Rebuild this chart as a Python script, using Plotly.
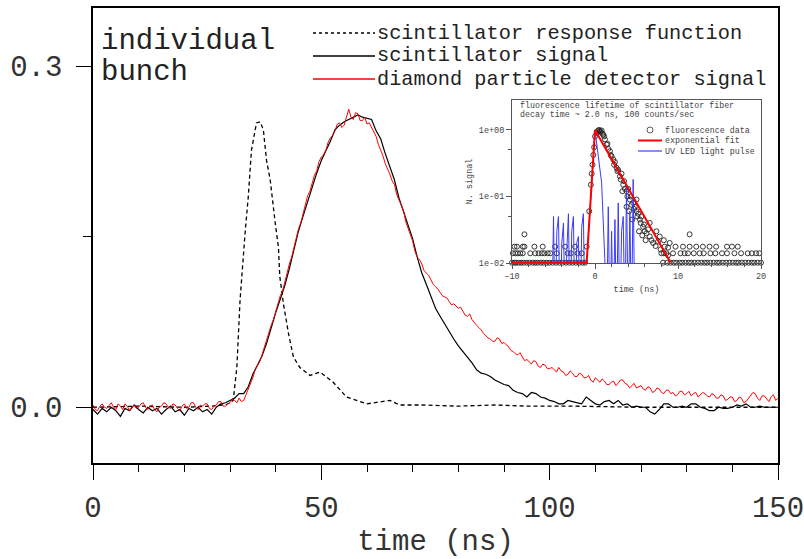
import plotly.graph_objects as go

FONT = "Liberation Mono"

# ---- main panel ----
# scintillator signal: one value per ns, 0..150 ns
t_ns = list(range(151))
scint_signal = [
    -0.002, -0.006, -0.001, -0.004, 0.000, -0.003, -0.008, -0.001, -0.003, 0.002,
    -0.002, -0.005, 0.000, -0.003, -0.001, -0.006, -0.002, 0.001, -0.004, -0.002,
    -0.007, -0.001, -0.003, 0.000, -0.004, -0.002, -0.006, 0.000, 0.003, 0.004,
    0.006, 0.008, 0.012, 0.012, 0.018, 0.029, 0.037, 0.045, 0.056, 0.070,
    0.083, 0.095, 0.107, 0.122, 0.139, 0.155, 0.168, 0.181, 0.195, 0.206,
    0.217, 0.225, 0.234, 0.244, 0.248, 0.251, 0.253, 0.255, 0.257, 0.255,
    0.254, 0.253, 0.243, 0.236, 0.223, 0.212, 0.200, 0.184, 0.172, 0.160,
    0.148, 0.132, 0.118, 0.108, 0.097, 0.087, 0.080, 0.073, 0.066, 0.060,
    0.054, 0.049, 0.045, 0.039, 0.033, 0.030, 0.029, 0.027, 0.024, 0.022,
    0.020, 0.019, 0.015, 0.013, 0.012, 0.009, 0.013, 0.012, 0.009, 0.008,
    0.006, 0.005, 0.003, 0.003, 0.006, 0.005, 0.004, 0.003, 0.009, 0.006,
    0.003, 0.002, 0.005, 0.006, 0.003, 0.006, 0.002, 0.003, 0.000, 0.001,
    0.000, 0.000, -0.004, -0.006, -0.002, 0.003, 0.003, 0.000, 0.000, 0.001,
    0.000, 0.003, 0.003, 0.000, -0.001, -0.003, -0.003, 0.000, -0.001, -0.001,
    0.000, 0.002, 0.001, 0.003, 0.000, 0.000, 0.001, 0.000, 0.000, 0.000, 0.000,
]

# diamond detector signal: one value per 0.5 ns, 0..150 ns
t_half = [i * 0.5 for i in range(301)]
diamond_signal = [
    0.002, -0.002, -0.003, 0.001, 0.003, 0.000, -0.001, 0.002, 0.004, 0.000,
    -0.002, 0.003, 0.001, -0.002, 0.003, 0.001, -0.003, 0.000, 0.002, -0.001,
    0.000, 0.003, 0.004, 0.000, -0.002, 0.001, 0.002, -0.002, -0.004, 0.000,
    0.001, 0.004, 0.003, 0.000, -0.001, 0.003, 0.002, -0.001, -0.003, 0.001,
    0.003, -0.001, 0.000, 0.004, 0.004, 0.000, -0.002, 0.002, 0.001, 0.003,
    0.003, -0.001, -0.002, 0.001, 0.002, 0.005, 0.005, 0.001, 0.001, 0.003,
    0.004, 0.007, 0.006, 0.004, 0.008, 0.005, 0.006, 0.011, 0.016, 0.020,
    0.026, 0.033, 0.037, 0.040, 0.046, 0.053, 0.058, 0.066, 0.072, 0.077,
    0.084, 0.093, 0.098, 0.102, 0.110, 0.119, 0.126, 0.132, 0.141, 0.150,
    0.157, 0.162, 0.170, 0.180, 0.186, 0.190, 0.197, 0.204, 0.208, 0.216,
    0.220, 0.222, 0.226, 0.233, 0.237, 0.239, 0.243, 0.249, 0.250, 0.246,
    0.248, 0.256, 0.262, 0.255, 0.253, 0.259, 0.258, 0.252, 0.252, 0.255,
    0.249, 0.250, 0.246, 0.243, 0.238, 0.231, 0.226, 0.221, 0.214, 0.210,
    0.205, 0.199, 0.196, 0.187, 0.182, 0.178, 0.173, 0.163, 0.157, 0.152,
    0.146, 0.137, 0.132, 0.130, 0.126, 0.120, 0.118, 0.116, 0.112, 0.108,
    0.106, 0.104, 0.101, 0.098, 0.097, 0.096, 0.093, 0.090, 0.091, 0.089,
    0.087, 0.088, 0.084, 0.081, 0.080, 0.082, 0.077, 0.074, 0.072, 0.070,
    0.068, 0.065, 0.063, 0.061, 0.060, 0.058, 0.058, 0.061, 0.060, 0.056,
    0.057, 0.055, 0.053, 0.050, 0.049, 0.047, 0.046, 0.048, 0.044, 0.041,
    0.042, 0.040, 0.038, 0.041, 0.040, 0.036, 0.035, 0.038, 0.037, 0.034,
    0.034, 0.035, 0.033, 0.031, 0.035, 0.032, 0.031, 0.028, 0.029, 0.032,
    0.030, 0.027, 0.027, 0.030, 0.029, 0.026, 0.026, 0.028, 0.024, 0.022,
    0.026, 0.024, 0.022, 0.025, 0.023, 0.020, 0.020, 0.022, 0.023, 0.019,
    0.021, 0.024, 0.024, 0.021, 0.020, 0.017, 0.019, 0.021, 0.017, 0.018,
    0.019, 0.016, 0.015, 0.018, 0.017, 0.013, 0.014, 0.017, 0.016, 0.013,
    0.012, 0.015, 0.015, 0.012, 0.013, 0.010, 0.011, 0.014, 0.014, 0.011,
    0.012, 0.014, 0.010, 0.012, 0.013, 0.009, 0.011, 0.013, 0.012, 0.010,
    0.009, 0.012, 0.011, 0.008, 0.008, 0.011, 0.010, 0.006, 0.007, 0.009,
    0.009, 0.005, 0.006, 0.009, 0.008, 0.004, 0.005, 0.008, 0.010, 0.013,
    0.012, 0.008, 0.006, 0.010, 0.010, 0.007, 0.005, 0.009, 0.011, 0.006,
    0.008,
]

resp_t = [0, 10, 20, 26, 28, 29, 30, 30.7, 31.5, 32.2, 33.3, 34.0, 34.7, 35.8,
          36.6, 37.3, 38.0, 38.8, 39.9, 40.6, 40.9, 41.7, 42.8, 43.9, 45.3, 47.5,
          49.7, 52.6, 55.5, 59.9, 65.0, 67.2, 72, 80, 88, 95, 105, 120, 135, 150]
resp_v = [0.000, 0.001, 0.000, 0.001, 0.002, 0.002, 0.004, 0.006, 0.035, 0.094,
          0.153, 0.185, 0.226, 0.250, 0.251, 0.244, 0.217, 0.200, 0.162, 0.141,
          0.115, 0.091, 0.065, 0.044, 0.035, 0.028, 0.031, 0.022, 0.009, 0.003,
          0.006, 0.002, 0.002, 0.001, 0.002, 0.001, 0.001, 0.000, 0.000, 0.000]

main_labels = ["scintillator response function", "scintillator signal",
               "diamond particle detector signal"]

# ---- inset: fluorescence lifetime (log scale) ----
fit_t = [-10, -1, 0, 9.1]
fit_v = [0.0102, 0.0102, 1.0, 0.0102]

led_t = [-5.2, -5.0, -4.8, -4.6, -4.4, -4.2, -4.0, -3.8, -3.6, -3.4, -3.2, -3.0,
         -2.8, -2.6, -2.4, -2.2, -2.0, -1.8, -1.6, -1.4, -1.2, -1.0, 0.0, 0.4,
         0.8, 1.2, 1.4, 1.6, 1.8, 2.0, 2.2, 2.4, 2.6, 2.8, 3.0, 3.2, 3.4, 3.6,
         3.8, 4.0, 4.2, 4.4, 4.6, 4.8]
led_v = [0.001, 0.05, 0.001, 0.03, 0.05, 0.001, 0.02, 0.04, 0.001, 0.015, 0.055, 0.001,
         0.03, 0.05, 0.001, 0.02, 0.025, 0.001, 0.035, 0.055, 0.001, 0.01, 1.0, 0.4,
         0.16, 0.01, 0.001, 0.07, 0.001, 0.03, 0.001, 0.045, 0.001, 0.08, 0.001, 0.03, 0.05, 0.001,
         0.15, 0.001, 0.06, 0.001, 0.18, 0.001]

decay_t = [-0.7, -0.5, -0.4, -0.3, -0.2, -0.1, 0.0, 0.2, 0.3, 0.4, 0.5, 0.6, 0.7,
           0.8, 0.9, 1.0, 1.1, 1.2, 1.4, 1.5, 1.6, 1.8, 1.9, 2.0, 2.2, 2.3, 2.4,
           2.6, 2.7, 2.8, 3.0, 3.1, 3.2, 3.4, 3.5, 3.6, 3.8, 3.9, 4.0, 4.2, 4.3,
           4.4, 4.6, 4.7, 4.8, 5.0, 5.1, 5.2, 5.4, 5.5, 5.6, 5.8, 5.9, 6.0, 6.2,
           6.4, 6.6, 6.8, 7.0, 7.3, 7.6, 7.9, 8.3, 8.8,
           3.8, 4.5, 5.3, 6.1, 4.1, 3.3, 5.7, 5.0, 6.6, 7.4, 8.3, 9.0, 8.8, 7.8]
decay_v = [0.06, 0.15, 0.22, 0.3, 0.42, 0.55, 0.8, 0.9, 0.95, 0.98, 1.0, 0.96, 0.93,
           0.98, 0.88, 0.85, 0.8, 0.72, 0.6, 0.62, 0.52, 0.48, 0.42, 0.4, 0.36, 0.3, 0.33,
           0.27, 0.24, 0.25, 0.2, 0.18, 0.22, 0.15, 0.17, 0.13, 0.12, 0.1, 0.13, 0.09, 0.1,
           0.075, 0.08, 0.065, 0.07, 0.06, 0.05, 0.055, 0.045, 0.04, 0.05, 0.035, 0.038, 0.03, 0.028,
           0.032, 0.025, 0.022, 0.02, 0.018, 0.021, 0.016, 0.014, 0.013,
           0.07, 0.045, 0.03, 0.022, 0.06, 0.12, 0.026, 0.09, 0.04, 0.03, 0.022, 0.02, 0.017, 0.025]

# background counts sit on a few discrete levels
bg_levels = [0.0101, 0.014, 0.0176, 0.027]
bg_rows = [
    [-10, -9.7, -9.5, -9.2, -8.9, -8.6, -8.2, -7.9, -7.5, -7.2, -6.9, -6.5, -6.2,
     -5.8, -5.5, -5.1, -4.7, -4.3, -3.9, -3.5, -3.1, -2.7, -2.3, -1.9, -1.5, -1.2,
     8.2, 8.7, 9.1, 9.5, 9.8, 10.2, 10.5, 10.9, 11.3, 11.6, 12.0, 12.4, 12.8, 13.2,
     13.5, 13.9, 14.3, 14.7, 15.0, 15.4, 15.8, 16.2, 16.6, 17.0, 17.3, 17.7, 18.1,
     18.5, 18.9, 19.2, 19.6, 20.0],
    [-9.9, -9.6, -9.3, -9.0, -8.7, -7.8, -7.2, -6.8, -6.4, -6.1, -5.7, -5.4, -4.6,
     -3.3, -2.9, -2.1, -1.6, 8.0, 8.6, 9.4, 10.3, 10.8, 11.2, 11.9, 12.6, 13.1,
     13.9, 14.5, 15.3, 15.9, 16.8, 17.6, 18.4, 18.9, 19.4, 19.8],
    [-9.7, -9.4, -8.7, -8.5, -7.3, -6.3, -4.8, -3.6, -2.4, -1.0, 8.4, 9.7, 10.6,
     11.4, 12.2, 13.0, 13.8, 14.6, 15.9, 16.5, 17.2],
    [-8.5, 11.4],
]
inset_labels = ["fluorescence data", "exponential fit", "UV LED light pulse"]

fl_t = list(decay_t)
fl_v = list(decay_v)
for lvl, row in zip(bg_levels, bg_rows):
    fl_t += row
    fl_v += [lvl] * len(row)

fig = go.Figure()

fig.add_trace(go.Scatter(x=resp_t, y=resp_v, mode="lines", name=main_labels[0],
                         line=dict(color="black", width=1.3, dash="4px,3px")))
fig.add_trace(go.Scatter(x=t_ns, y=scint_signal, mode="lines",
                         name=main_labels[1], line=dict(color="black", width=1.2)))
fig.add_trace(go.Scatter(x=t_half, y=diamond_signal, mode="lines",
                         name=main_labels[2], line=dict(color="red", width=1)))

# inset traces
fig.add_trace(go.Scatter(x=fl_t, y=fl_v, mode="markers", xaxis="x2", yaxis="y2",
                         name=inset_labels[0], cliponaxis=False,
                         marker=dict(symbol="circle-open", size=5, color="#222",
                                     line=dict(width=0.9))))
fig.add_trace(go.Scatter(x=led_t, y=led_v, mode="lines", xaxis="x2", yaxis="y2",
                         name=inset_labels[2], line=dict(color="#3a3aff", width=1)))
fig.add_trace(go.Scatter(x=fit_t, y=fit_v, mode="lines", xaxis="x2", yaxis="y2",
                         name=inset_labels[1], line=dict(color="red", width=2)))

# pixel -> paper helpers (plot area 93..778 x 8..463)
def px(x):
    return (x - 93) / 685.0

def py(y):
    return (463 - y) / 455.0

def label(text, x, y, size, color):
    return dict(text=text, x=px(x), y=py(y), xref="paper", yref="paper",
                xanchor="left", yanchor="middle", showarrow=False,
                font=dict(family=FONT, size=size, color=color))

annotations = [
    label("individual", 99, 42, 29, "#222"),
    label("bunch", 99, 72, 29, "#222"),
    label("fluorescence lifetime of scintillator fiber", 518, 105, 8.3, "#444"),
    label("decay time ~ 2.0 ns, 100 counts/sec", 518, 114.5, 8.3, "#444"),
]
shapes = []

# main legend, drawn by hand so the 60 px samples and row spacing match
main_rows = [33, 56, 79]
main_styles = [dict(color="black", width=1.3, dash="3px,3px"),
               dict(color="black", width=1.3),
               dict(color="red", width=1.3)]
for lbl, yy, st in zip(main_labels, main_rows, main_styles):
    annotations.append(label(lbl, 375, yy, 20.3, "#222"))
    shapes.append(dict(type="line", xref="paper", yref="paper", x0=px(313), x1=px(375),
                       y0=py(yy), y1=py(yy), line=st))

# inset legend
inset_rows = [130, 140.5, 151]
for lbl, yy in zip(inset_labels, inset_rows):
    annotations.append(label(lbl, 663, yy, 8.3, "#444"))
shapes += [
    dict(type="circle", xref="paper", yref="paper", xsizemode="pixel", ysizemode="pixel",
         xanchor=px(650), yanchor=py(inset_rows[0]), x0=-3, x1=3, y0=-3, y1=3,
         line=dict(color="#333", width=0.8)),
    dict(type="line", xref="paper", yref="paper", x0=px(638), x1=px(662),
         y0=py(inset_rows[1]), y1=py(inset_rows[1]), line=dict(color="red", width=2)),
    dict(type="line", xref="paper", yref="paper", x0=px(638), x1=px(662),
         y0=py(inset_rows[2]), y1=py(inset_rows[2]), line=dict(color="#8c8cff", width=2)),
]

fig.update_layout(
    width=804, height=559,
    margin=dict(l=93, r=26, t=8, b=96),
    paper_bgcolor="white", plot_bgcolor="white",
    font=dict(family=FONT, color="#222"),
    showlegend=False,
    annotations=annotations, shapes=shapes,
    xaxis=dict(range=[0, 150], tickvals=[0, 50, 100, 150], ticks="outside", ticklen=15,
               tickcolor="black", tickwidth=1.2, showline=True, linecolor="black",
               linewidth=1.5, mirror=True, showgrid=False, zeroline=False,
               automargin=False, ticklabeloverflow="allow",
               minor=dict(dtick=10, tick0=0, ticks="outside", ticklen=7, tickcolor="black"),
               tickfont=dict(family=FONT, size=29, color="#333"), ticklabelstandoff=2,
               title=dict(text="time (ns)", font=dict(family=FONT, size=29, color="#333"),
                          standoff=35)),
    yaxis=dict(range=[-0.049, 0.351], tickvals=[0, 0.3], ticktext=["0.0", "0.3"],
               ticks="outside", ticklen=15, tickcolor="black", tickwidth=1.2,
               showline=True, linecolor="black", linewidth=1.5, mirror=True,
               showgrid=False, zeroline=False, automargin=False,
               minor=dict(tickvals=[0.15], ticks="outside", ticklen=8, tickcolor="black"),
               tickfont=dict(family=FONT, size=29, color="#333"), ticklabelstandoff=8),
    xaxis2=dict(domain=[px(512), px(761)], anchor="y2", range=[-10, 20],
                tickvals=[-10, 0, 10, 20], ticks="outside", ticklen=5, tickcolor="#555",
                showline=True, linecolor="#555", linewidth=1, mirror=True,
                showgrid=False, zeroline=False, automargin=False,
                minor=dict(dtick=2, tick0=0, ticks="outside", ticklen=3, tickcolor="#555"),
                tickfont=dict(family=FONT, size=8.5, color="#444"),
                title=dict(text="time (ns)", font=dict(family=FONT, size=8.5, color="#444"),
                           standoff=4)),
    yaxis2=dict(domain=[py(263), py(100)], anchor="x2", type="log", range=[-2, 0.45],
                tickvals=[0.01, 0.1, 1], ticktext=["1e-02", "1e-01", "1e+00"],
                ticks="outside", ticklen=5, tickcolor="#555",
                showline=True, linecolor="#555", linewidth=1, mirror=True,
                showgrid=False, zeroline=False, automargin=False,
                minor=dict(tickvals=[0.05, 0.5], ticks="outside", ticklen=3, tickcolor="#555"),
                tickfont=dict(family=FONT, size=8.5, color="#444"),
                title=dict(text="N. signal", font=dict(family=FONT, size=8.5, color="#444"),
                           standoff=4)),
)

# the default page keeps the browser's 8px body margin; drop it so the figure sits at 0,0
fig.write_html("out.html", config={"displayModeBar": False},
               post_script="document.body.style.margin='0';")
